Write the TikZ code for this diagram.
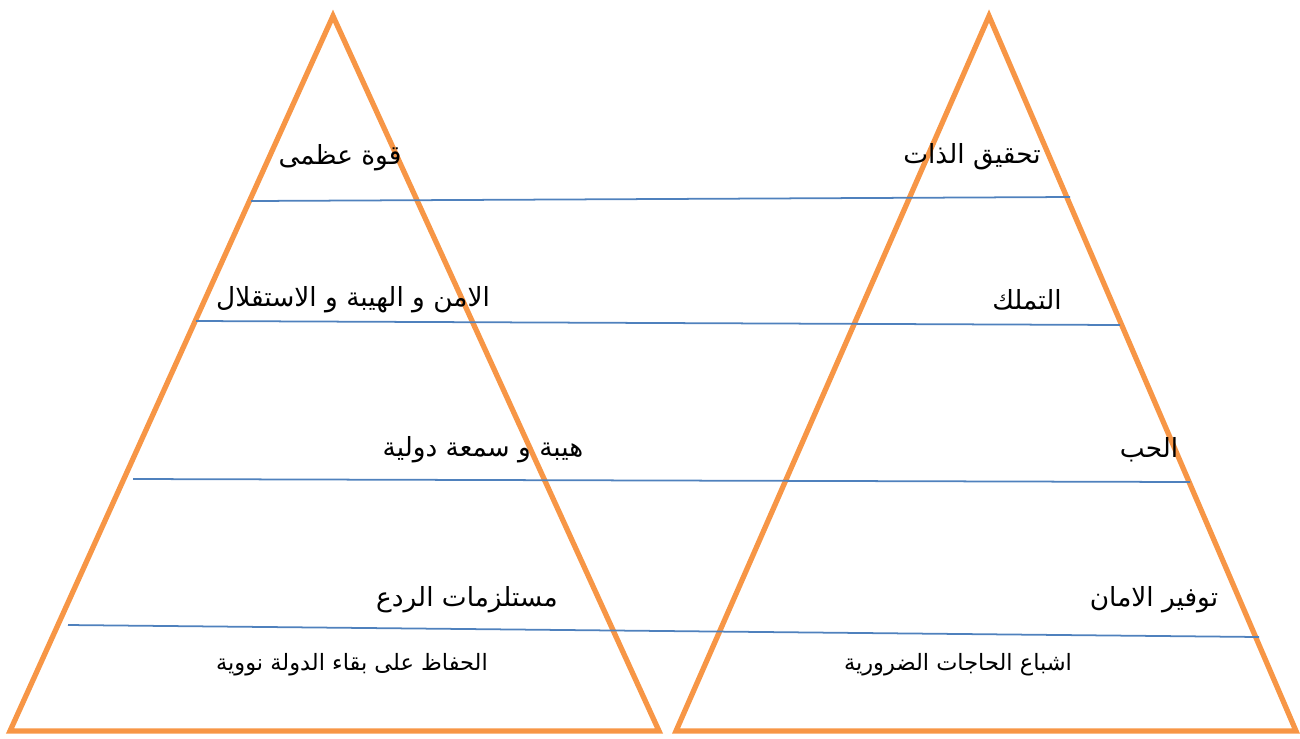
\documentclass[tikz,border=0pt]{standalone}
\usepackage{fontspec}
\newfontfamily\arabicfont[Script=Arabic]{DejaVu Sans}
\TeXXeTstate=1
\definecolor{pyrorange}{HTML}{F79646}
\definecolor{pyrblue}{HTML}{4F81BD}
\tikzset{
	pyr/.style={draw=pyrorange, line width=3pt, line join=miter},
	lvl/.style={draw=pyrblue, line width=1pt},
	lbl/.style={font=\arabicfont\fontsize{15}{17}\selectfont, inner sep=0pt},
	sml/.style={font=\arabicfont\fontsize{12.8}{15}\selectfont, inner sep=0pt}
}
\begin{document}
\begin{tikzpicture}[x=0.02cm, y=-0.02cm]
	\useasboundingbox (0,0) rectangle (1300,738);

	% the two pyramids
	\coordinate (la) at (333,16);
	\coordinate (ll) at (10,731);
	\coordinate (lr) at (659,731);
	\coordinate (ra) at (989,16);
	\coordinate (rl) at (676,731);
	\coordinate (rr) at (1296,731);
	\draw[pyr] (la) -- (lr) -- (ll) -- cycle;
	\draw[pyr] (ra) -- (rr) -- (rl) -- cycle;

	% level lines
	\coordinate (a1) at (251,201);
	\coordinate (b1) at (1070,197);
	\coordinate (a2) at (196,321);
	\coordinate (b2) at (1120,325);
	\coordinate (a3) at (133,479);
	\coordinate (b3) at (1190,482);
	\coordinate (a4) at (68,625);
	\coordinate (b4) at (1259,637);
	\draw[lvl] (a1) -- (b1);
	\draw[lvl] (a2) -- (b2);
	\draw[lvl] (a3) -- (b3);
	\draw[lvl] (a4) -- (b4);

	% left pyramid
	\node[lbl] (l1) at (340,158) {\beginR قوة عظمى\endR};
	\node[lbl] (l2) at (353,300) {\beginR الامن و الهيبة و الاستقلال\endR};
	\node[lbl] (l3) at (483,450) {\beginR هيبة و سمعة دولية\endR};
	\node[lbl] (l4) at (467,600) {\beginR مستلزمات الردع\endR};
	\node[sml] (l5) at (352,665) {\beginR الحفاظ على بقاء الدولة نووية\endR};

	% right pyramid
	\node[lbl] (r1) at (972,157) {\beginR تحقيق الذات\endR};
	\node[lbl] (r2) at (1027,300) {\beginR التملك\endR};
	\node[lbl] (r3) at (1149,450) {\beginR الحب\endR};
	\node[lbl] (r4) at (1154,600) {\beginR توفير الامان\endR};
	\node[sml] (r5) at (958,665) {\beginR اشباع الحاجات الضرورية\endR};
\end{tikzpicture}
\end{document}
